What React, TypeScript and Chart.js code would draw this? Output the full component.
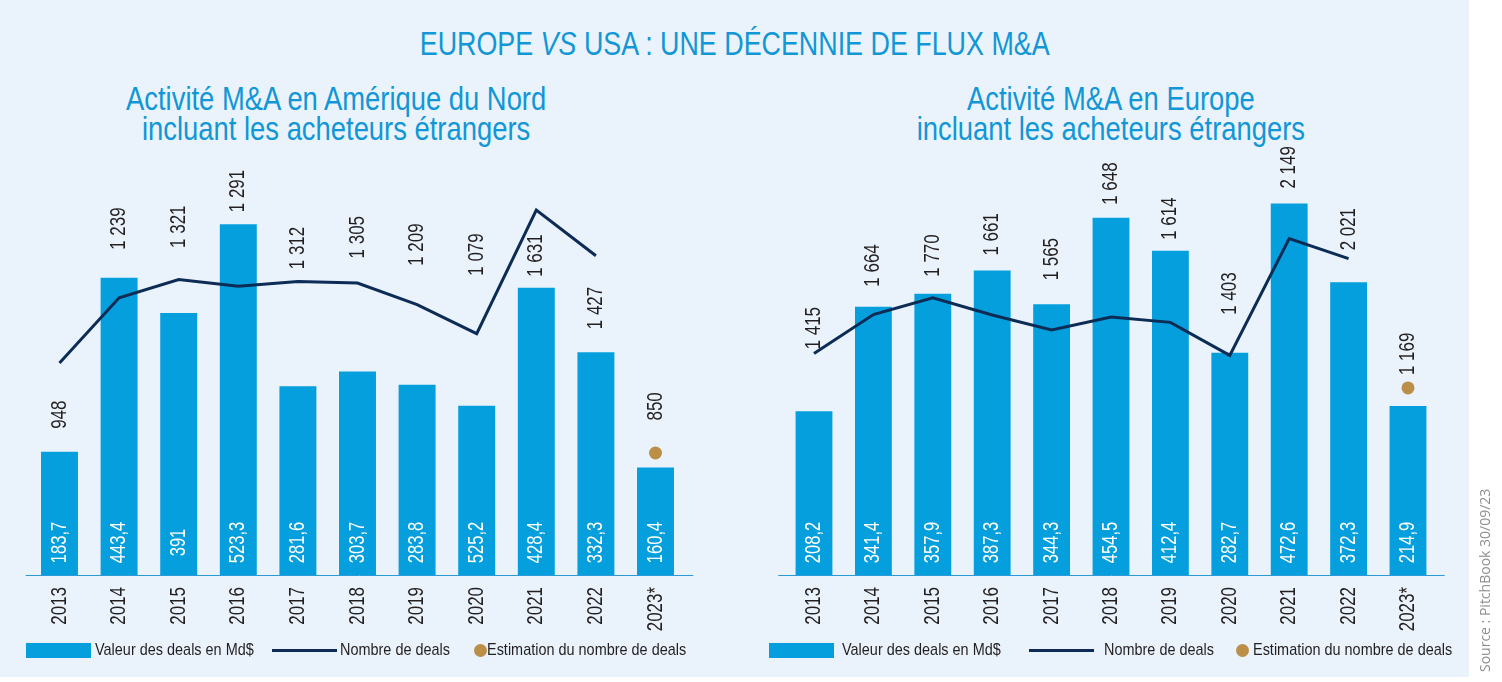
import React, { useEffect, useRef } from "react";
import { Chart, registerables } from "chart.js";

Chart.register(...registerables);

const FONT = "'Liberation Sans', Arial, sans-serif";
const NARROW = 0.77;

const BAR_COLOR = "#049fdc";
const LINE_COLOR = "#0c2c55";
const DOT_COLOR = "#bb8f48";
const TEXT_DARK = "#231f20";
const BLUE_TEXT = "#1196d6";
const PANEL_BG = "#eaf3fc";

const years = ["2013", "2014", "2015", "2016", "2017", "2018", "2019", "2020", "2021", "2022", "2023*"];

// Amérique du Nord
const naDealValue = [183.7, 443.4, 391, 523.3, 281.6, 303.7, 283.8, 252.5, 428.4, 332.3, 160.4];
const naDealValueText = ["183,7", "443,4", "391", "523,3", "281,6", "303,7", "283,8", "525,2", "428,4", "332,3", "160,4"];
const naDealCount = [948, 1239, 1321, 1291, 1312, 1305, 1209, 1079, 1631, 1427, null];
const naDealCountText = ["948", "1 239", "1 321", "1 291", "1 312", "1 305", "1 209", "1 079", "1 631", "1 427", "850"];
const naEstimate = [null, null, null, null, null, null, null, null, null, null, 182];

// Europe
const euDealValue = [208.2, 341.4, 357.9, 387.3, 344.3, 454.5, 412.4, 282.7, 472.6, 372.3, 214.9];
const euDealValueText = ["208,2", "341,4", "357,9", "387,3", "344,3", "454,5", "412,4", "282,7", "472,6", "372,3", "214,9"];
const euDealCount = [1415, 1664, 1770, 1661, 1565, 1648, 1614, 1403, 2149, 2021, null];
const euDealCountText = ["1 415", "1 664", "1 770", "1 661", "1 565", "1 648", "1 614", "1 403", "2 149", "2 021", "1 169"];
const euEstimate = [null, null, null, null, null, null, null, null, null, null, 238];

// label gaps (px above bar top) — layout only
const naCountGap = [23, 28, 65, 12, 117, 113, 119, 130, 11, 23, 47];
const euCountGap = [62, 20, 17, 15, 24, 13, 11, 38, 15, 32, 31];

function drawRotated(
  ctx: CanvasRenderingContext2D,
  text: string,
  x: number,
  y: number,
  align: CanvasTextAlign,
  color: string,
  size: number,
  sx: number
) {
  ctx.save();
  ctx.translate(x, y);
  ctx.rotate(-Math.PI / 2);
  ctx.scale(sx, 1);
  ctx.font = `${size}px ${FONT}`;
  ctx.fillStyle = color;
  ctx.textAlign = align;
  ctx.textBaseline = "middle";
  ctx.fillText(text, 0, 0);
  ctx.restore();
}

const labelPlugin = {
  id: "barLabels",
  afterDatasetsDraw(chart: any, _args: any, opts: any) {
    const ctx = chart.ctx as CanvasRenderingContext2D;
    const area = chart.chartArea;
    const meta = chart.getDatasetMeta(2);
    const xScale = chart.scales.x;
    const bottom = area.bottom;
    ctx.save();
    ctx.strokeStyle = "#2b9ad6";
    ctx.lineWidth = 1;
    ctx.beginPath();
    ctx.moveTo(area.left - opts.extendLeft, bottom + 0.5);
    ctx.lineTo(area.right + opts.extendRight, bottom + 0.5);
    ctx.stroke();
    ctx.restore();
    meta.data.forEach((bar: any, i: number) => {
      const x = bar.x;
      const top = bar.y;
      drawRotated(ctx, opts.valueText[i], x, bottom - 32.5, "center", "#ffffff", 22, 0.75);
      drawRotated(ctx, opts.countText[i], x, top - opts.countGap[i], "left", TEXT_DARK, 22, NARROW);
    });
    (chart.data.labels as string[]).forEach((lab, i) => {
      const x = xScale.getPixelForValue(i);
      drawRotated(ctx, lab, x, bottom + 12, "right", TEXT_DARK, 22, NARROW);
    });
  },
};

function makeConfig(p: {
  values: number[];
  valueText: string[];
  counts: (number | null)[];
  countText: string[];
  estimate: (number | null)[];
  countGap: number[];
  yMax: number;
  y2Max: number;
  padLeft: number;
  padRight: number;
  extendLeft: number;
  extendRight: number;
}): any {
  return {
    type: "bar",
    data: {
      labels: years,
      datasets: [
        {
          type: "line",
          label: "Nombre de deals",
          data: p.counts,
          yAxisID: "y2",
          borderColor: LINE_COLOR,
          borderWidth: 3,
          borderJoinStyle: "miter",
          pointRadius: 0,
          tension: 0,
          order: 0,
          clip: false,
        },
        {
          type: "line",
          label: "Estimation du nombre de deals",
          data: p.estimate,
          yAxisID: "y",
          showLine: false,
          pointRadius: 6.5,
          pointBackgroundColor: DOT_COLOR,
          pointBorderWidth: 0,
          order: 1,
        },
        {
          type: "bar",
          label: "Valeur des deals en Md$",
          data: p.values,
          yAxisID: "y",
          backgroundColor: BAR_COLOR,
          borderWidth: 0,
          categoryPercentage: 1,
          barPercentage: 0.62,
          order: 2,
        },
      ],
    },
    options: {
      responsive: false,
      animation: false,
      events: [],
      layout: { padding: { top: 20, left: p.padLeft, right: p.padRight, bottom: 0 } },
      plugins: {
        legend: { display: false },
        tooltip: { enabled: false },
        barLabels: {
          valueText: p.valueText,
          countText: p.countText,
          countGap: p.countGap,
          extendLeft: p.extendLeft,
          extendRight: p.extendRight,
        },
      },
      scales: {
        x: {
          grid: { display: false, drawTicks: false },
          border: { display: false },
          ticks: { display: false, autoSkip: false },
          afterFit: (s: any) => {
            s.height = 100;
          },
        },
        y: { display: false, min: 0, max: p.yMax },
        y2: { display: false, min: 0, max: p.y2Max, position: "right" },
      },
    },
    plugins: [labelPlugin],
  };
}

function ChartCanvas({ config, left, top }: { config: any; left: number; top: number }) {
  const ref = useRef<HTMLCanvasElement>(null);
  useEffect(() => {
    const chart = new Chart(ref.current as HTMLCanvasElement, config);
    return () => chart.destroy();
  }, []);
  return (
    <canvas
      ref={ref}
      width={720}
      height={545}
      style={{ position: "absolute", left, top, width: 720, height: 545 }}
    />
  );
}

function Narrow({ s, origin, children }: { s: number; origin: string; children: React.ReactNode }) {
  return (
    <span style={{ display: "inline-block", transform: `scaleX(${s})`, transformOrigin: origin }}>{children}</span>
  );
}

const legendText: React.CSSProperties = {
  position: "absolute",
  top: 640.6,
  fontFamily: FONT,
  fontSize: 17,
  lineHeight: "17px",
  color: TEXT_DARK,
  whiteSpace: "nowrap",
};

function Legend({ rectL, text1L, lineL, text2L, dotC, text3L }: any) {
  return (
    <>
      <div style={{ position: "absolute", left: rectL, top: 642.5, width: 65, height: 15, background: BAR_COLOR }} />
      <div style={{ ...legendText, left: text1L }}>
        <Narrow s={0.85} origin="left center">Valeur des deals en Md$</Narrow>
      </div>
      <div style={{ position: "absolute", left: lineL, top: 648.5, width: 65, height: 3, background: LINE_COLOR }} />
      <div style={{ ...legendText, left: text2L }}>
        <Narrow s={0.85} origin="left center">Nombre de deals</Narrow>
      </div>
      <div
        style={{
          position: "absolute",
          left: dotC - 6.5,
          top: 643.5,
          width: 13,
          height: 13,
          borderRadius: "50%",
          background: DOT_COLOR,
        }}
      />
      <div style={{ ...legendText, left: text3L }}>
        <Narrow s={0.85} origin="left center">Estimation du nombre de deals</Narrow>
      </div>
    </>
  );
}

export default function App() {
  const naConfig = makeConfig({
    values: naDealValue,
    valueText: naDealValueText,
    counts: naDealCount,
    countText: naDealCountText,
    estimate: naEstimate,
    countGap: naCountGap,
    yMax: 634,
    y2Max: 1900,
    padLeft: 29.7,
    padRight: 34.7,
    extendLeft: 4,
    extendRight: 8,
  });
  const euConfig = makeConfig({
    values: euDealValue,
    valueText: euDealValueText,
    counts: euDealCount,
    countText: euDealCountText,
    estimate: euEstimate,
    countGap: euCountGap,
    yMax: 540.7,
    y2Max: 2715,
    padLeft: 34.3,
    padRight: 32.3,
    extendLeft: 6,
    extendRight: 7,
  });

  const subtitle: React.CSSProperties = {
    position: "absolute",
    top: 83.5,
    fontFamily: FONT,
    fontSize: 33,
    lineHeight: "30px",
    color: BLUE_TEXT,
    textAlign: "center",
    whiteSpace: "nowrap",
  };

  return (
    <div
      style={{
        position: "absolute",
        left: 0,
        top: 0,
        width: 1502,
        height: 682,
        background: "#ffffff",
        overflow: "hidden",
      }}
    >
      <div style={{ position: "absolute", left: 0, top: 0, width: 1469, height: 677, background: PANEL_BG }} />
      <div
        style={{
          position: "absolute",
          left: 0,
          top: 26,
          width: 1469,
          textAlign: "center",
          fontFamily: FONT,
          fontSize: 34,
          lineHeight: "34px",
          color: BLUE_TEXT,
          whiteSpace: "nowrap",
        }}
      >
        <Narrow s={0.79} origin="center">
          EUROPE <span style={{ fontStyle: "italic" }}>VS</span> USA : UNE DÉCENNIE DE FLUX M&amp;A
        </Narrow>
      </div>
      <div style={{ ...subtitle, left: 36.5, width: 600 }}>
        <Narrow s={0.83} origin="center">
          Activité M&amp;A en Amérique du Nord
          <br />
          incluant les acheteurs étrangers
        </Narrow>
      </div>
      <div style={{ ...subtitle, left: 811, width: 600 }}>
        <Narrow s={0.83} origin="center">
          Activité M&amp;A en Europe
          <br />
          incluant les acheteurs étrangers
        </Narrow>
      </div>
      <ChartCanvas config={naConfig} left={0} top={130} />
      <ChartCanvas config={euConfig} left={750} top={130} />
      <Legend rectL={26} text1L={95} lineL={272} text2L={340} dotC={480} text3L={487} />
      <Legend rectL={769} text1L={842} lineL={1029} text2L={1104} dotC={1242} text3L={1252.6} />
      <div
        style={{
          position: "absolute",
          left: 1485,
          top: 672,
          transformOrigin: "0 0",
          transform: "rotate(-90deg) translate(0px, -7px)",
          fontFamily: "'Open Sans', sans-serif",
          fontSize: 14,
          lineHeight: "14px",
          color: "#8f8f8f",
          whiteSpace: "nowrap",
        }}
      >
        Source : PitchBook 30/09/23
      </div>
    </div>
  );
}
